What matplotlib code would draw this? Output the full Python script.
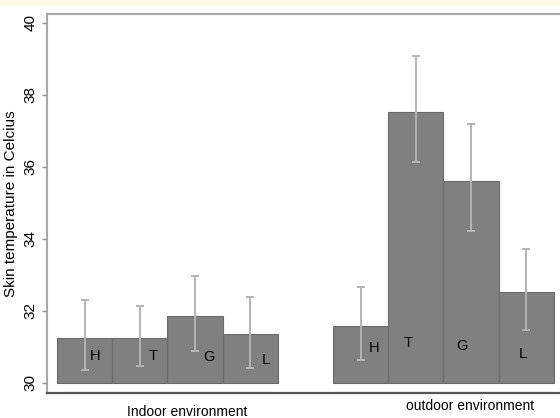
import matplotlib.pyplot as plt
from matplotlib.patches import Rectangle

plt.rcParams['font.family'] = ['Liberation Sans', 'DejaVu Sans']

# data
letters = ["H", "T", "G", "L"]
indoor_mean = [31.25, 31.25, 31.87, 31.36]
indoor_low = [30.35, 30.47, 30.89, 30.43]
indoor_high = [32.30, 32.14, 32.96, 32.40]
outdoor_mean = [31.59, 37.54, 35.62, 32.54]
outdoor_low = [30.64, 36.15, 34.23, 31.47]
outdoor_high = [32.67, 39.08, 37.19, 33.72]
group_labels = ["Indoor environment", "outdoor environment"]

# where the letters sit inside each bar (x offset from bar centre, y value)
indoor_letter_dx = [0.19, 0.24, 0.25, 0.29]
indoor_letter_y = [30.75, 30.75, 30.72, 30.64]
outdoor_letter_dx = [0.24, -0.14, -0.16, -0.07]
outdoor_letter_y = [30.97, 31.11, 31.03, 30.81]

W, H = 560, 418
fig = plt.figure(figsize=(W / 100, H / 100), dpi=100, facecolor="white")
fig.patches.append(Rectangle((0, 1 - 6 / H), 1, 6 / H, transform=fig.transFigure,
                             facecolor="#fffae6", edgecolor="none"))

ax_left, ax_top, ax_bottom = 47, 14, 393
ax = fig.add_axes([ax_left / W, 1 - ax_bottom / H, (W - ax_left) / W, (ax_bottom - ax_top) / H])

# pixel rows of 30 and 40 in the reference: 383 and 23
py = 36.0
px = 55.2
ax.set_ylim(30 - (ax_bottom - 383) / py, 40 + (23 - ax_top) / py)
ax.set_xlim(-0.5 - (57 - ax_left) / px, -0.5 + (W - 57) / px)

bar_kw = dict(width=1.0, bottom=30, color="#808080", edgecolor="#6c6c6c", linewidth=0.8, zorder=2)
err_kw = dict(fmt="none", ecolor="#b4b4b4", elinewidth=1.4, capsize=3, capthick=1.4, zorder=3)

groups = [
    (0, indoor_mean, indoor_low, indoor_high, indoor_letter_dx, indoor_letter_y),
    (5, outdoor_mean, outdoor_low, outdoor_high, outdoor_letter_dx, outdoor_letter_y),
]
for start, mean, low, high, dx, ly in groups:
    xs = [start + i for i in range(len(mean))]
    ax.bar(xs, [m - 30 for m in mean], **bar_kw)
    mid = [(lo + hi) / 2 for lo, hi in zip(low, high)]
    half = [(hi - lo) / 2 for lo, hi in zip(low, high)]
    ax.errorbar(xs, mid, yerr=half, **err_kw)
    for x, d, y, s in zip(xs, dx, ly, letters):
        ax.text(x + d, y, s, ha="center", va="center", fontsize=10.5, color="black", zorder=4)

ax.set_yticks([30, 32, 34, 36, 38, 40])
ax.set_yticklabels(["30", "32", "34", "36", "38", "40"], rotation=90, va="center")
ax.tick_params(axis="y", length=3.6, width=1, color="#909090", labelsize=11, pad=3)
ax.set_xticks([])
ax.set_ylabel("Skin temperature in Celcius", fontsize=11, labelpad=4)

for s in ["top", "left"]:
    ax.spines[s].set_color("#a8a8a8")
    ax.spines[s].set_linewidth(1.5)
ax.spines["right"].set_visible(False)
ax.spines["bottom"].set_color("#555555")
ax.spines["bottom"].set_linewidth(1.6)

fig.text(187 / W, 1 - 412 / H, group_labels[0], ha="center", va="center", fontsize=10)
fig.text(470 / W, 1 - 406 / H, group_labels[1], ha="center", va="center", fontsize=10)

fig.savefig("out.png", dpi=100, facecolor="white")
